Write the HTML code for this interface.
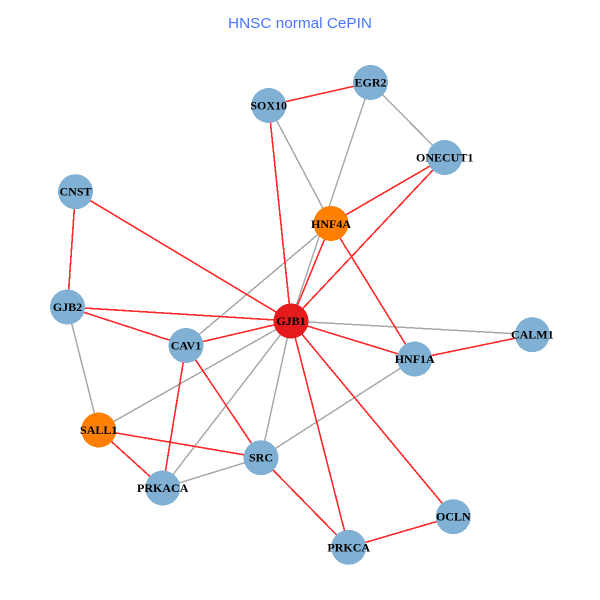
<!DOCTYPE html>
<html>
<head>
<meta charset="utf-8">
<style>
html,body{margin:0;padding:0;background:#fff;width:600px;height:600px;overflow:hidden}
svg{display:block}
.r line{stroke:#ff2b2b}
.g line{stroke:#a9a9a9}
.n circle{fill:#80b0d3}
line,circle{shape-rendering:crispEdges}
.t text{font-family:"Liberation Serif",serif;font-weight:bold;font-size:12px;fill:#000;text-anchor:middle}
</style>
</head>
<body>
<svg width="600" height="600" viewBox="0 0 600 600" xmlns="http://www.w3.org/2000/svg">
<rect width="600" height="600" fill="#fff"/>
<text x="300" y="28" text-anchor="middle" textLength="144" lengthAdjust="spacingAndGlyphs" style="font-family:'Liberation Sans',sans-serif;font-size:15px;fill:#4a76fb">HNSC normal CePIN</text>
<g class="g" stroke-width="1.5">
<line x1="268.7" y1="105.5" x2="331" y2="223.5"/>
<line x1="370.5" y1="82.5" x2="291" y2="321"/>
<line x1="370.5" y1="82.5" x2="444.7" y2="157.5"/>
<line x1="331" y1="223.5" x2="186" y2="345.5"/>
<line x1="67.5" y1="307" x2="98.7" y2="430"/>
<line x1="291" y1="321" x2="98.7" y2="430"/>
<line x1="291" y1="321" x2="162.7" y2="488"/>
<line x1="291" y1="321" x2="261" y2="457.7"/>
<line x1="291" y1="321" x2="532.3" y2="334.7"/>
<line x1="414.7" y1="359" x2="261" y2="457.7"/>
<line x1="261" y1="457.7" x2="162.7" y2="488"/>
</g>
<g class="r" stroke-width="1.6">
<line x1="268.7" y1="105.5" x2="370.5" y2="82.5"/>
<line x1="268.7" y1="105.5" x2="291" y2="321"/>
<line x1="75.5" y1="191.7" x2="67.5" y2="307"/>
<line x1="75.5" y1="191.7" x2="291" y2="321"/>
<line x1="444.7" y1="157.5" x2="331" y2="223.5"/>
<line x1="444.7" y1="157.5" x2="291" y2="321"/>
<line x1="331" y1="223.5" x2="291" y2="321"/>
<line x1="331" y1="223.5" x2="414.7" y2="359"/>
<line x1="67.5" y1="307" x2="291" y2="321"/>
<line x1="67.5" y1="307" x2="186" y2="345.5"/>
<line x1="186" y1="345.5" x2="291" y2="321"/>
<line x1="186" y1="345.5" x2="162.7" y2="488"/>
<line x1="186" y1="345.5" x2="261" y2="457.7"/>
<line x1="98.7" y1="430" x2="261" y2="457.7"/>
<line x1="98.7" y1="430" x2="162.7" y2="488"/>
<line x1="291" y1="321" x2="414.7" y2="359"/>
<line x1="414.7" y1="359" x2="532.3" y2="334.7"/>
<line x1="291" y1="321" x2="453.3" y2="516.7"/>
<line x1="291" y1="321" x2="348.7" y2="547.3"/>
<line x1="261" y1="457.7" x2="348.7" y2="547.3"/>
<line x1="453.3" y1="516.7" x2="348.7" y2="547.3"/>
</g>
<g class="n">
<circle cx="268.7" cy="105.5" r="17.5"/>
<circle cx="370.5" cy="82.5" r="17.5"/>
<circle cx="444.7" cy="157.5" r="17.5"/>
<circle cx="75.5" cy="191.7" r="17.5"/>
<circle cx="331" cy="223.5" r="17.5" style="fill:#ff7f00"/>
<circle cx="67.5" cy="307" r="17.5"/>
<circle cx="186" cy="345.5" r="17.5"/>
<circle cx="291" cy="321" r="17.5" style="fill:#e41a1c"/>
<circle cx="98.7" cy="430" r="17.5" style="fill:#ff7f00"/>
<circle cx="162.7" cy="488" r="17.5"/>
<circle cx="261" cy="457.7" r="17.5"/>
<circle cx="414.7" cy="359" r="17.5"/>
<circle cx="532.3" cy="334.7" r="17.5"/>
<circle cx="453.3" cy="516.7" r="17.5"/>
<circle cx="348.7" cy="547.3" r="17.5"/>
</g>
<g class="t">
<text x="268.7" y="109.5">SOX10</text>
<text x="370.5" y="86.5">EGR2</text>
<text x="444.7" y="161.5">ONECUT1</text>
<text x="75.5" y="195.5">CNST</text>
<text x="331" y="228">HNF4A</text>
<text x="67.5" y="311">GJB2</text>
<text x="186" y="349.5">CAV1</text>
<text x="291" y="325">GJB1</text>
<text x="98.7" y="434">SALL1</text>
<text x="162.7" y="492">PRKACA</text>
<text x="261" y="461.5">SRC</text>
<text x="414.7" y="363">HNF1A</text>
<text x="532.3" y="338.5">CALM1</text>
<text x="453.3" y="520.5">OCLN</text>
<text x="348.7" y="551.5">PRKCA</text>
</g>
</svg>
</body>
</html>
